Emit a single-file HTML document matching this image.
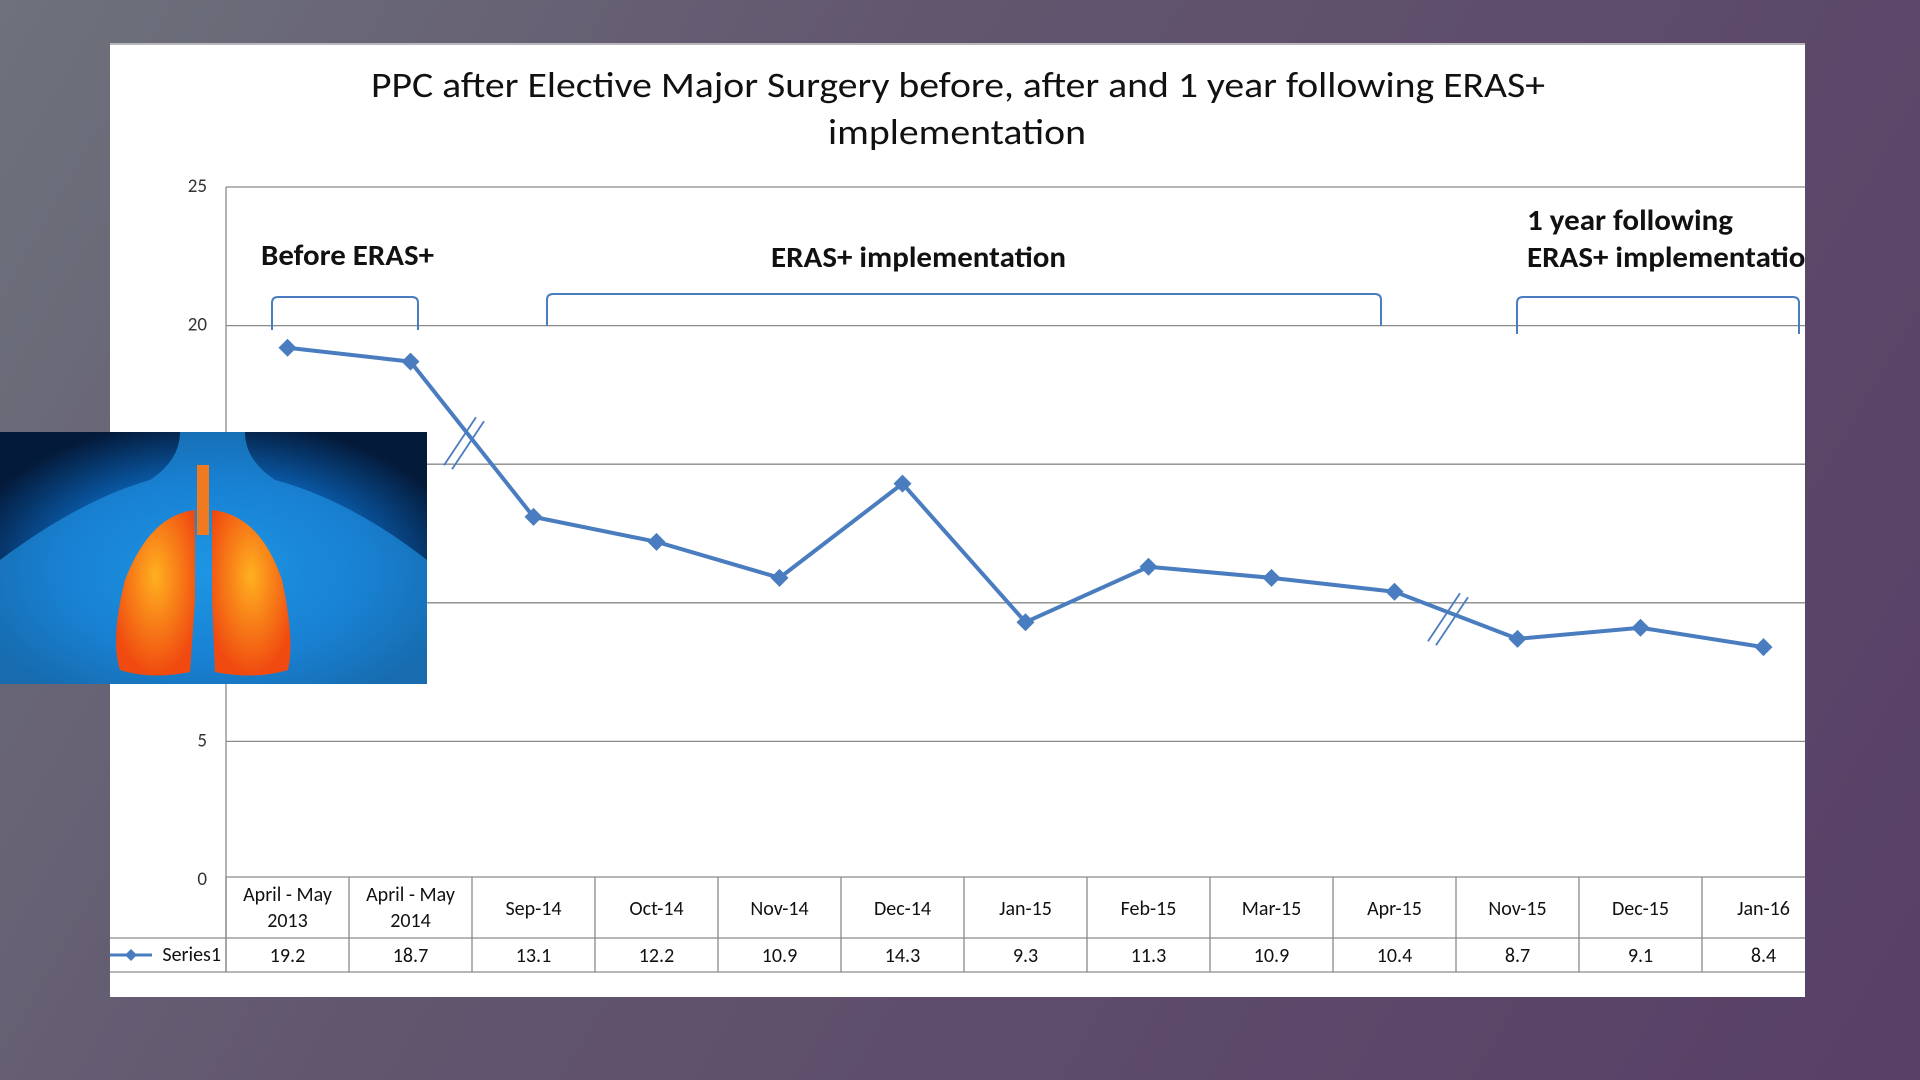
<!DOCTYPE html>
<html><head><meta charset="utf-8"><style>
html,body{margin:0;padding:0;width:1920px;height:1080px;overflow:hidden;}
body{background:linear-gradient(120deg,#6e727c 0%,#62576f 35%,#583f66 100%);font-family:"Liberation Sans",sans-serif;}
#panel{position:absolute;left:110px;top:43px;width:1695px;height:952px;background:#fff;border-top:2px solid #b8b8bc;overflow:hidden;}
svg text{font-family:"Carlito","Liberation Sans",sans-serif;}
</style></head><body>
<div id="panel"></div>
<svg id="chart" width="1920" height="1080" style="position:absolute;left:0;top:0">
<defs><clipPath id="pc"><rect x="110" y="43" width="1695" height="952"/></clipPath>
<radialGradient id="glow" cx="50%" cy="55%" r="60%"><stop offset="0" stop-color="#1ba7f0"/><stop offset="0.6" stop-color="#0a5fb0"/><stop offset="1" stop-color="#041a3a"/></radialGradient>
<radialGradient id="lung" cx="50%" cy="40%" r="60%"><stop offset="0" stop-color="#ffb020"/><stop offset="1" stop-color="#f04a10"/></radialGradient></defs>
<g id="root" clip-path="url(#pc)"></g>
</svg>
<script>
const categories=[["April - May","2013"],["April - May","2014"],["Sep-14"],["Oct-14"],["Nov-14"],["Dec-14"],["Jan-15"],["Feb-15"],["Mar-15"],["Apr-15"],["Nov-15"],["Dec-15"],["Jan-16"]];
const values=[19.2,18.7,13.1,12.2,10.9,14.3,9.3,11.3,10.9,10.4,8.7,9.1,8.4];
const yTicks=[0,5,10,15,20,25];
const seriesName="Series1";

const NS="http://www.w3.org/2000/svg";
const root=document.getElementById('root');
const svg=document.getElementById('chart');
const X0=226,COL=123,Y0=880,YTOP=187,YMAX=25;
function xs(i){return X0+COL*(i+0.5);}
function ys(v){return Y0-(v/YMAX)*(Y0-YTOP);}
function mk(tag,attrs,parent){const e=document.createElementNS(NS,tag);for(const k in attrs)e.setAttribute(k,attrs[k]);(parent||root).appendChild(e);return e;}
function txt(s,attrs,parent){const e=mk('text',attrs,parent);e.textContent=s;return e;}

// title
let t=txt('PPC after Elective Major Surgery before, after and 1 year following ERAS+',{x:371,y:97,'font-size':36,fill:'#111',textLength:1174,lengthAdjust:'spacingAndGlyphs'});


t=txt('implementation',{x:828,y:144,'font-size':36,fill:'#111',textLength:258,lengthAdjust:'spacingAndGlyphs'});



// gridlines & y labels
yTicks.forEach(v=>{
  if(v>0){const g=mk('line',{x1:X0,x2:1805,y1:ys(v),y2:ys(v),stroke:'#8a8a8a','stroke-width':1.3});
  
  }
  const l=txt(String(v),{x:207,y:ys(v)+5,'text-anchor':'end','font-size':19,fill:'#333'});
  
  
});
let ax=mk('line',{x1:X0,x2:X0,y1:YTOP,y2:972,stroke:'#8a8a8a','stroke-width':1.3});



// table
const tbl=mk('g',{});


mk('line',{x1:X0,x2:1805,y1:877,y2:877,stroke:'#8a8a8a','stroke-width':1.3},tbl);
mk('line',{x1:110,x2:1805,y1:938,y2:938,stroke:'#8a8a8a','stroke-width':1.3},tbl);
mk('line',{x1:110,x2:1805,y1:972,y2:972,stroke:'#8a8a8a','stroke-width':1.3},tbl);
for(let i=0;i<=categories.length;i++){mk('line',{x1:X0+COL*i,x2:X0+COL*i,y1:877,y2:972,stroke:'#8a8a8a','stroke-width':1.3},tbl);}
categories.forEach((c,i)=>{
  let e;
  if(c.length===2){e=txt(c[0],{x:xs(i),y:901,'text-anchor':'middle','font-size':20,fill:'#111'},tbl);
    const e2=txt(c[1],{x:xs(i),y:927,'text-anchor':'middle','font-size':20,fill:'#111'},tbl);
    
    }
  else e=txt(c[0],{x:xs(i),y:915,'text-anchor':'middle','font-size':20,fill:'#111'},tbl);
  
  
  const v=txt(String(values[i]),{x:xs(i),y:962,'text-anchor':'middle','font-size':20,fill:'#111'},tbl);
  
  
});
const leg=mk('g',{});


mk('line',{x1:110,x2:152,y1:955,y2:955,stroke:'#4a7dbf','stroke-width':3},leg);
mk('path',{d:'M131 949 L137 955 L131 961 L125 955 Z',fill:'#4a7dbf'},leg);
txt(seriesName,{x:221,y:961,'text-anchor':'end','font-size':20,fill:'#111'},leg);

// brackets & annotations
function bracket(x1,x2,top,bot,name){const b=mk('path',{d:`M${x1} ${bot} L${x1} ${top+6} Q${x1} ${top} ${x1+6} ${top} L${x2-6} ${top} Q${x2} ${top} ${x2} ${top+6} L${x2} ${bot}`,fill:'none',stroke:'#4a7dbf','stroke-width':2});
  
  }
bracket(272,418,297,330,'bracket-before');
bracket(547,1381,294,326,'bracket-implementation');
bracket(1517,1799,297,334,'bracket-after');
t=txt('Before ERAS+',{x:261,y:265,'font-size':29,'font-weight':'bold',fill:'#111',textLength:173,lengthAdjust:'spacingAndGlyphs'});


t=txt('ERAS+ implementation',{x:771,y:267,'font-size':29,'font-weight':'bold',fill:'#111',textLength:295,lengthAdjust:'spacingAndGlyphs'});


t=txt('1 year following',{x:1527,y:230,'font-size':29,'font-weight':'bold',fill:'#111',textLength:206,lengthAdjust:'spacingAndGlyphs'});


t=txt('ERAS+ implementation',{x:1527,y:267,'font-size':29,'font-weight':'bold',fill:'#111',textLength:295,lengthAdjust:'spacingAndGlyphs'});



// series line
const pts=values.map((v,i)=>xs(i)+','+ys(v)).join(' ');
const line=mk('polyline',{points:pts,fill:'none',stroke:'#4a7dbf','stroke-width':4,'stroke-linejoin':'round'});


values.forEach((v,i)=>{const x=xs(i),y=ys(v);
  const m=mk('path',{d:`M${x} ${y-9} L${x+9} ${y} L${x} ${y+9} L${x-9} ${y} Z`,fill:'#4a7dbf'});
  
  
});
// axis break marks
function brk(i,name){const cx=(xs(i)+xs(i+1))/2-10,cy=(ys(values[i])+ys(values[i+1]))/2;
  const g=mk('g',{});
  
  
  mk('line',{x1:cx-18,y1:cy+26,x2:cx+14,y2:cy-22,stroke:'#4a7dbf','stroke-width':1.8},g);
  mk('line',{x1:cx-10,y1:cy+30,x2:cx+22,y2:cy-18,stroke:'#4a7dbf','stroke-width':1.8},g);}
brk(1,'axis-break-1');
brk(9,'axis-break-2');

// lung image
const img=mk('g',{},svg);


mk('rect',{x:0,y:432,width:427,height:252,fill:'url(#glow)'},img);
mk('path',{d:'M0 560 Q80 500 150 480 Q180 460 180 432 L245 432 Q245 460 275 480 Q350 500 427 560 L427 684 L0 684 Z',fill:'#1f8fe0',opacity:0.7},img);
mk('rect',{x:197,y:465,width:12,height:70,fill:'#f07a20'},img);
mk('path',{d:'M195 510 Q150 515 125 580 Q110 640 120 670 Q150 680 190 672 L195 600 Z',fill:'url(#lung)'},img);
mk('path',{d:'M212 510 Q260 515 282 580 Q295 640 288 670 Q255 680 215 672 L212 600 Z',fill:'url(#lung)'},img);
</script>
</body></html>
